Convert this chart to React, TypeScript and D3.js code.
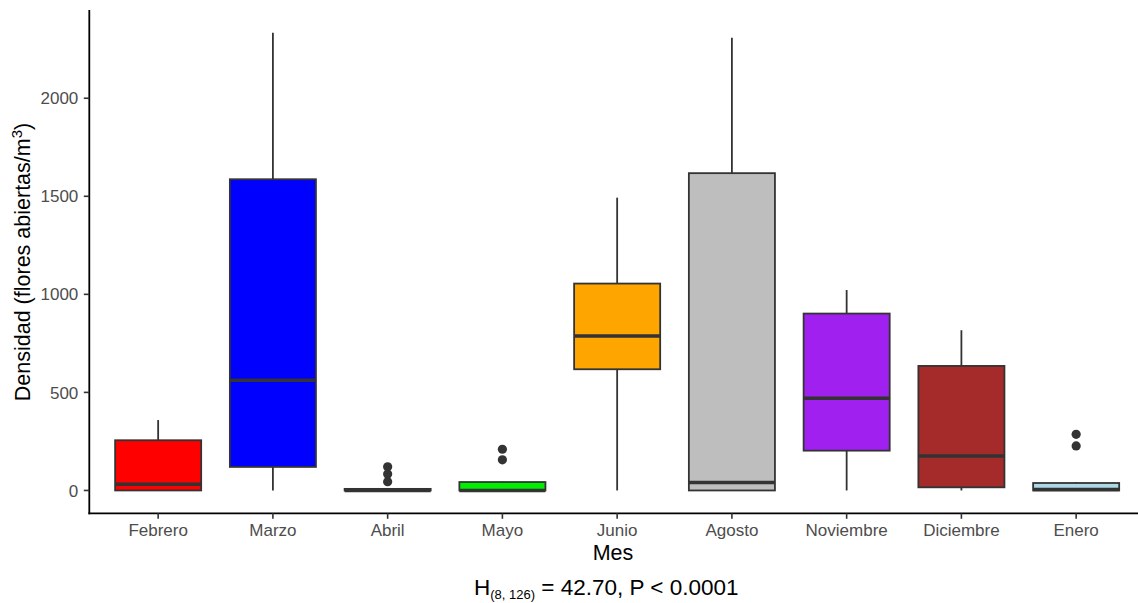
import React from "react";
import * as d3 from "d3";

const months = ["Febrero", "Marzo", "Abril", "Mayo", "Junio", "Agosto", "Noviembre", "Diciembre", "Enero"];
const lowerWhisker = [0, 0, 0, 0, 0, 0, 0, 0, 0];
const q1 = [0, 120, 0, 0, 618, 0, 203, 16, 0];
const medians = [32, 562, 0, 0, 788, 40, 470, 176, 5];
const q3 = [256, 1587, 8, 43, 1055, 1618, 902, 635, 38];
const upperWhisker = [359, 2334, 8, 45, 1493, 2309, 1022, 817, 42];
const outliers: number[][] = [[], [], [45, 84, 121], [156, 210], [], [], [], [], [227, 286]];
const fills = ["#FF0000", "#0000FF", "#FFFF00", "#00EE00", "#FFA500", "#BEBEBE", "#A020F0", "#A52A2A", "#ADD8E6"];
const yTicks = [0, 500, 1000, 1500, 2000];

const W = 1138;
const H = 603;
const panelLeft = 89.3;
const panelTop = 10;
const panelBottom = 513.3;

export default function App() {
  const x = d3.scaleBand<string>().domain(months).range([panelLeft, 1145]).paddingInner(0).paddingOuter(0.1);
  const y = d3.scaleLinear().domain([-116.5, 2450]).range([panelBottom, panelTop]);
  const bw = x.step() * 0.75;
  const stroke = "#333333";
  const font = "'Liberation Sans', Arial, sans-serif";

  return (
    <svg width={W} height={H} style={{ position: "absolute", left: 0, top: 0, background: "#fff" }} fontFamily={font}>
      <rect x={0} y={0} width={W} height={H} fill="#fff" />
      {months.map((m, i) => {
        const cx = (x(m) as number) + x.bandwidth() / 2;
        return (
          <g key={m}>
            <line x1={cx} x2={cx} y1={y(upperWhisker[i])} y2={y(q3[i])} stroke={stroke} strokeWidth={1.8} />
            <line x1={cx} x2={cx} y1={y(q1[i])} y2={y(lowerWhisker[i])} stroke={stroke} strokeWidth={1.8} />
            <rect
              x={cx - bw / 2}
              y={y(q3[i])}
              width={bw}
              height={Math.max(0.01, y(q1[i]) - y(q3[i]))}
              fill={fills[i]}
              stroke={stroke}
              strokeWidth={1.8}
            />
            <line x1={cx - bw / 2} x2={cx + bw / 2} y1={y(medians[i])} y2={y(medians[i])} stroke={stroke} strokeWidth={3.5} />
            {outliers[i].map((v, j) => (
              <circle key={j} cx={cx} cy={y(v)} r={4.6} fill={stroke} />
            ))}
          </g>
        );
      })}
      {/* axes */}
      <line x1={panelLeft} x2={panelLeft} y1={panelTop} y2={panelBottom + 0.9} stroke="#000" strokeWidth={1.8} />
      <line x1={panelLeft - 0.9} x2={W} y1={panelBottom} y2={panelBottom} stroke="#000" strokeWidth={1.8} />
      {yTicks.map((t) => (
        <g key={t}>
          <line x1={panelLeft - 5.5} x2={panelLeft} y1={y(t)} y2={y(t)} stroke="#333" strokeWidth={1.6} />
          <text x={panelLeft - 11} y={y(t)} dy="0.36em" textAnchor="end" fontSize={17} fill="#4D4D4D">
            {t}
          </text>
        </g>
      ))}
      {months.map((m) => {
        const cx = (x(m) as number) + x.bandwidth() / 2;
        return (
          <g key={m}>
            <line x1={cx} x2={cx} y1={panelBottom} y2={panelBottom + 5.5} stroke="#333" strokeWidth={1.6} />
            <text x={cx} y={536} textAnchor="middle" fontSize={17} fill="#4D4D4D">
              {m}
            </text>
          </g>
        );
      })}
      <text x={613} y={560} textAnchor="middle" fontSize={21.5} fill="#000">
        Mes
      </text>
      <text transform={`translate(30,${262}) rotate(-90)`} textAnchor="middle" fontSize={21.5} fill="#000">
        Densidad (flores abiertas/m<tspan dy={-8} fontSize={15}>3</tspan>
        <tspan dy={8}>)</tspan>
      </text>
      <text x={474} y={595} fontSize={22.5} fill="#000">
        H<tspan dy={4} fontSize={13}>(8, 126)</tspan>
        <tspan dy={-4}> = 42.70, P &lt; 0.0001</tspan>
      </text>
    </svg>
  );
}
